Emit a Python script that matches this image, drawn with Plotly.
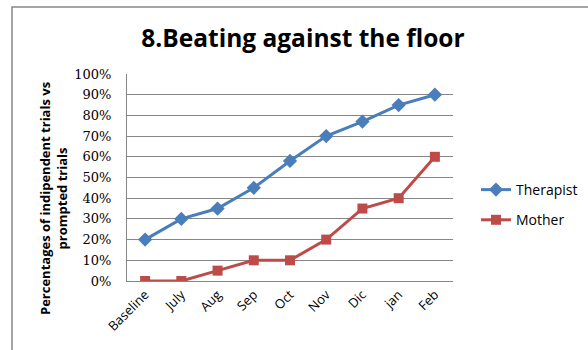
import plotly.graph_objects as go

# Session labels and the share of independent trials for each carer
months = ["Baseline", "July", "Aug", "Sep", "Oct", "Nov", "Dic", "jan", "Feb"]
therapist = [0.20, 0.30, 0.35, 0.45, 0.58, 0.70, 0.77, 0.85, 0.90]
mother = [0.00, 0.00, 0.05, 0.10, 0.10, 0.20, 0.35, 0.40, 0.60]
y_ticks = [0, 0.1, 0.2, 0.3, 0.4, 0.5, 0.6, 0.7, 0.8, 0.9, 1.0]

W, H = 588, 350
L, R, T, B = 127, 135, 74, 69
pw, ph = W - L - R, H - T - B


def px(x):
    return (x - L) / pw


def py(y):
    return (H - B - y) / ph


fig = go.Figure()
fig.add_trace(go.Scatter(
    x=months, y=therapist, name="Therapist", mode="lines+markers",
    legendgroup="t",
    line=dict(color="#4A7EBB", width=3),
    marker=dict(symbol="diamond", size=11, color="#4A7EBB"),
))
fig.add_trace(go.Scatter(
    x=months, y=mother, name="Mother", mode="lines+markers",
    legendgroup="m",
    line=dict(color="#BE4B48", width=3),
    marker=dict(symbol="square", size=10, color="#BE4B48"),
))

fig.update_layout(
    width=W, height=H,
    margin=dict(l=L, r=R, t=T, b=B, autoexpand=False),
    paper_bgcolor="white", plot_bgcolor="white",
    title=dict(text="<b>8.Beating against the floor</b>", xref="container",
               x=303 / W, xanchor="center",
               y=1 - 38 / H, yanchor="middle",
               font=dict(family="Open Sans", size=24.5, color="black")),
    xaxis=dict(
        type="category", range=[-0.5, len(months) - 0.5],
        showgrid=False, showline=True, linecolor="#868686", linewidth=1,
        tickangle=-45, ticks="", zeroline=False,
        tickfont=dict(family="Open Sans", size=13, color="black"),
    ),
    yaxis=dict(
        range=[0, 1], tickvals=y_ticks, tickformat=".0%",
        showgrid=True, gridcolor="#868686", gridwidth=1,
        showline=True, linecolor="#868686", linewidth=1,
        ticks="", zeroline=False, ticklabelstandoff=12,
        tickfont=dict(family="DejaVu Serif", size=13, color="black"),
    ),
    legend=dict(x=px(476), y=py(205), xanchor="left", yanchor="middle",
                font=dict(family="Open Sans", size=14, color="black"),
                bgcolor="rgba(0,0,0,0)", traceorder="grouped", tracegroupgap=9),
    showlegend=True,
)

fig.add_annotation(
    text="<b>Percentages of indipendent trials vs<br>prompted trials</b>",
    xref="paper", yref="paper", x=px(53), y=py(199),
    showarrow=False, textangle=-90, xanchor="center", yanchor="middle",
    font=dict(family="Open Sans", size=13, color="black"),
)

# Chart frame
fig.add_shape(type="rect", xref="paper", yref="paper",
              x0=px(12), x1=px(600), y0=py(360), y1=py(7),
              line=dict(color="#868686", width=1.5), layer="below")

fig.write_html("out.html")
